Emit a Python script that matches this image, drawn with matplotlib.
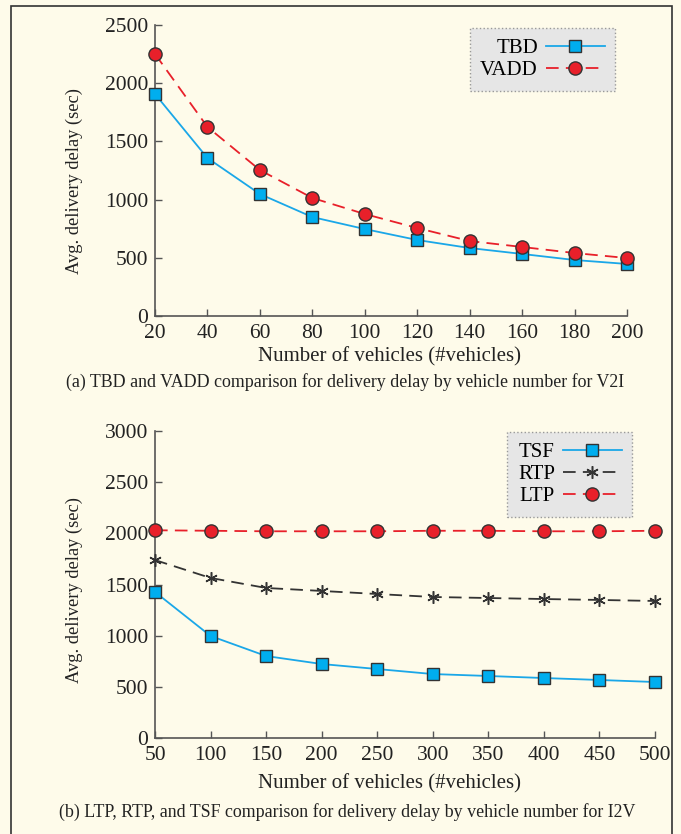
import matplotlib
matplotlib.use("Agg")
import matplotlib.pyplot as plt
from matplotlib.patches import Rectangle

plt.rcParams['font.family'] = ['Liberation Serif', 'DejaVu Serif']
plt.rcParams['mathtext.fontset'] = 'stix'

# Panel (a) data
veh_a = [20, 40, 60, 80, 100, 120, 140, 160, 180, 200]
tbd = [1907, 1357, 1048, 850, 747, 653, 584, 533, 481, 447]
vadd = [2251, 1624, 1254, 1014, 876, 756, 644, 593, 541, 498]

# Panel (b) data
veh_b = [50, 100, 150, 200, 250, 300, 350, 400, 450, 500]
tsf = [1427, 997, 801, 723, 674, 625, 606, 586, 567, 547]
rtp = [1739, 1564, 1466, 1437, 1407, 1378, 1368, 1358, 1349, 1339]
ltp = [2030, 2025, 2020, 2020, 2020, 2025, 2025, 2020, 2020, 2025]

yticks_a = [0, 500, 1000, 1500, 2000, 2500]
yticks_b = [0, 500, 1000, 1500, 2000, 2500, 3000]

BG = '#FEFBEA'
BLUE = '#1AA7E8'
BLUE_FILL = '#00AEEF'
RED = '#E8202A'
DARK = '#333333'
AX = '#555555'
TXT = '#222222'

fig = plt.figure(figsize=(6.81, 8.34), dpi=100, facecolor=BG)
fig.patches.append(Rectangle((11 / 681, -0.01), (672 - 11) / 681, 1 - 6 / 834 + 0.01,
                             transform=fig.transFigure, fill=False,
                             edgecolor='#333333', linewidth=1.2))

ax1 = fig.add_axes([155 / 681, 1 - 316 / 834, (627 - 155) / 681, (316 - 25) / 834])
ax2 = fig.add_axes([155 / 681, 1 - 738 / 834, (655 - 155) / 681, (738 - 431) / 834])


def style(ax):
    ax.set_facecolor(BG)
    for s in ['top', 'right']:
        ax.spines[s].set_visible(False)
    for s in ['left', 'bottom']:
        ax.spines[s].set_color(AX)
        ax.spines[s].set_linewidth(1.2)
    ax.tick_params(direction='in', length=5, width=1, color=AX,
                   labelsize=15.5, labelcolor=TXT)
    ax.tick_params(axis='y', pad=5)
    ax.tick_params(axis='x', pad=5.5)


def style_legend(leg):
    fr = leg.get_frame()
    fr.set_facecolor('#E6E6E6')
    fr.set_edgecolor('#999999')
    fr.set_linestyle(':')
    fr.set_alpha(1)


DASH = (0, (7, 4))
LEG_KW = dict(borderaxespad=0, markerfirst=False, fontsize=15, frameon=True,
              fancybox=False, handlelength=2.8, borderpad=0.5,
              labelspacing=0.12, handletextpad=0.4)

style(ax1)
ax1.plot(veh_a, tbd, color=BLUE, lw=1.3, marker='s', ms=9,
         mfc=BLUE_FILL, mec=DARK, mew=1.0, label='TBD', clip_on=False, zorder=3)
ax1.plot(veh_a, vadd, color=RED, lw=1.3, ls=DASH, marker='o', ms=9.5,
         mfc=RED, mec=DARK, mew=1.0, label='VADD', clip_on=False, zorder=4)
ax1.set_xlim(20, 200)
ax1.set_ylim(0, 2500)
ax1.set_xticks(veh_a)
ax1.set_yticks(yticks_a)
leg1 = ax1.legend(loc='upper right', bbox_to_anchor=((615 - 155) / 472, 1 - 3 / 291),
                  **LEG_KW)
style_legend(leg1)

style(ax2)
ax2.plot(veh_b, tsf, color=BLUE, lw=1.3, marker='s', ms=9,
         mfc=BLUE_FILL, mec=DARK, mew=1.0, label='TSF', clip_on=False, zorder=3)
ax2.plot(veh_b, rtp, color=DARK, lw=1.3, ls=DASH, marker=(6, 2, 0), ms=9,
         mec=DARK, mew=1.1, label='RTP', clip_on=False, zorder=3)
ax2.plot(veh_b, ltp, color=RED, lw=1.3, ls=DASH, marker='o', ms=9.5,
         mfc=RED, mec=DARK, mew=1.0, label='LTP', clip_on=False, zorder=4)
ax2.set_xlim(50, 500)
ax2.set_ylim(0, 3000)
ax2.set_xticks(veh_b)
ax2.set_yticks(yticks_b)
leg2 = ax2.legend(loc='upper right', bbox_to_anchor=((632 - 155) / 500, 1 - 1 / 307),
                  **LEG_KW)
style_legend(leg2)

# axis labels and captions
fig.text(74 / 681, 1 - 181 / 834, 'Avg. delivery delay (sec)', rotation=90,
         ha='center', va='center', fontsize=13.3, color=TXT)
fig.text(390 / 681, 1 - 357 / 834, 'Number of vehicles (#vehicles)',
         ha='center', va='center', fontsize=15, color=TXT)
fig.text(345 / 681, 1 - 382 / 834,
         '(a) TBD and VADD comparison for delivery delay by vehicle number for V2I',
         ha='center', va='center', fontsize=12.9, color=TXT)

fig.text(74 / 681, 1 - 590 / 834, 'Avg. delivery delay (sec)', rotation=90,
         ha='center', va='center', fontsize=13.3, color=TXT)
fig.text(390 / 681, 1 - 784 / 834, 'Number of vehicles (#vehicles)',
         ha='center', va='center', fontsize=15, color=TXT)
fig.text(347 / 681, 1 - 812 / 834,
         '(b) LTP, RTP, and TSF comparison for delivery delay by vehicle number for I2V',
         ha='center', va='center', fontsize=12.9, color=TXT)

fig.savefig('out.png', dpi=100, facecolor=BG)
